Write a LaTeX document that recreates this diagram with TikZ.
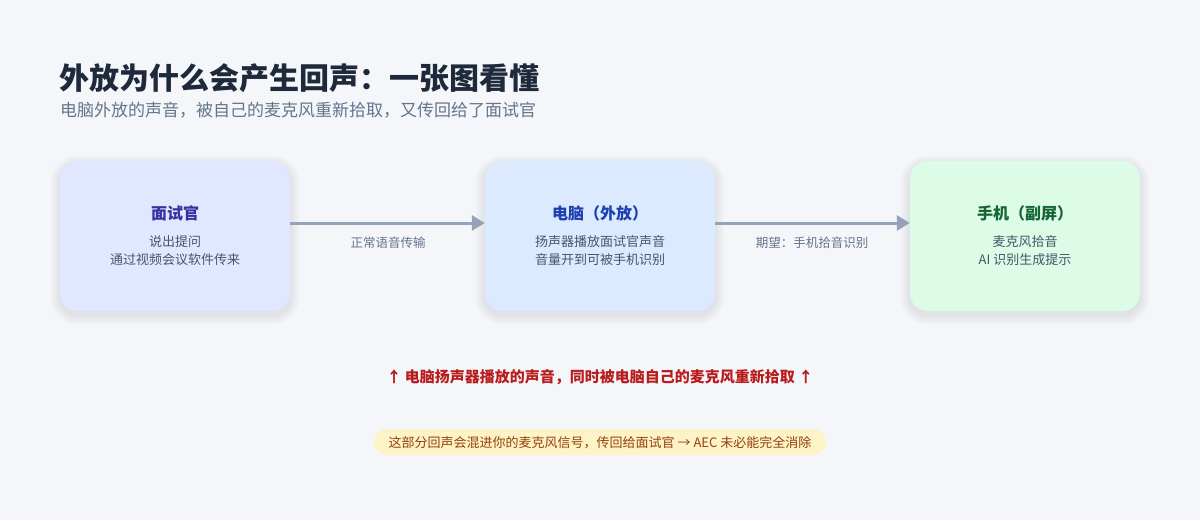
\documentclass[tikz,border=0pt]{standalone}
\usepackage{fontspec}
\setmainfont{Noto Sans CJK SC}
\usetikzlibrary{arrows.meta}
\definecolor{bg}{HTML}{F4F6FA}
\definecolor{titlec}{HTML}{1E293B}
\definecolor{subc}{HTML}{64748B}
\definecolor{bodyc}{HTML}{475569}
\definecolor{arrc}{HTML}{94A3B8}
\definecolor{fillA}{HTML}{E0E7FF}
\definecolor{fillB}{HTML}{DBEAFE}
\definecolor{fillC}{HTML}{DCFCE7}
\definecolor{headA}{HTML}{3730A3}
\definecolor{headB}{HTML}{1E40AF}
\definecolor{headC}{HTML}{166534}
\definecolor{redc}{HTML}{B91C1C}
\definecolor{pillf}{HTML}{FEF3C7}
\definecolor{pillt}{HTML}{92400E}
\definecolor{shadowc}{HTML}{1E293B}
\tikzset{
  card/.style={rounded corners=18pt, minimum width=230pt, minimum height=150pt, draw=none},
  cardhead/.style={font=\fontsize{16}{19}\selectfont\bfseries, anchor=base},
  cardbody/.style={font=\fontsize{13}{18}\selectfont, text=bodyc, anchor=base},
  flow/.style={draw=arrc, line width=3pt, -{Triangle[length=13pt,width=15pt]}},
  flowlabel/.style={font=\fontsize{12.5}{15}\selectfont, text=subc, anchor=base},
}
\newcommand\softshadow[1]{%
  \foreach \s in {1,...,10}{%
    \fill[shadowc, opacity=0.007, rounded corners=18pt+\s pt]
      ([xshift=-\s pt, yshift=\s pt-4pt]#1.north west) rectangle ([xshift=\s pt, yshift=-\s pt-4pt]#1.south east);
  }}
\begin{document}
\begin{tikzpicture}[x=1pt,y=-1pt]
\fill[bg] (0,0) rectangle (1200,520);
\useasboundingbox (0,0) rectangle (1200,520);
\node[anchor=base west, font=\fontsize{30}{36}\selectfont\bfseries, text=titlec, inner sep=0] (title) at (59,89) {外放为什么会产生回声：一张图看懂};
\node[anchor=base west, font=\fontsize{17}{21}\selectfont, text=subc, inner sep=0] (subtitle) at (60,116) {电脑外放的声音，被自己的麦克风重新拾取，又传回给了面试官};

\path (175,236) coordinate (cA) (600,236) coordinate (cB) (1025,236) coordinate (cC);
\node[card] (sA) at (cA) {};
\node[card] (sB) at (cB) {};
\node[card] (sC) at (cC) {};
\softshadow{sA}\softshadow{sB}\softshadow{sC}
\node[card, fill=fillA] (boxA) at (cA) {};
\node[card, fill=fillB] (boxB) at (cB) {};
\node[card, fill=fillC] (boxC) at (cC) {};

\node[cardhead, text=headA] (hA) at (175,219) {面试官};
\node[cardbody] (bA1) at (175,246) {说出提问};
\node[cardbody] (bA2) at (175,264) {通过视频会议软件传来};

\node[cardhead, text=headB] (hB) at (600,219) {电脑（外放）};
\node[cardbody] (bB1) at (600,246) {扬声器播放面试官声音};
\node[cardbody] (bB2) at (600,264) {音量开到可被手机识别};

\node[cardhead, text=headC] (hC) at (1025,219) {手机（副屏）};
\node[cardbody] (bC1) at (1025,246) {麦克风拾音};
\node[cardbody] (bC2) at (1025,264) {AI 识别生成提示};

\draw[flow] (boxA.east |- 0,223) -- (boxB.west |- 0,223);
\draw[flow] (boxB.east |- 0,223) -- (boxC.west |- 0,223);
\node[flowlabel] (lAB) at (388,247) {正常语音传输};
\node[flowlabel] (lBC) at (812,247) {期望：手机拾音识别};

\node[anchor=base, font=\fontsize{15}{18}\selectfont\bfseries, text=redc] (warn) at (600,382) {↑ 电脑扬声器播放的声音，同时被电脑自己的麦克风重新拾取 ↑};

\node[fill=pillf, rounded corners=13pt, minimum width=452pt, minimum height=26pt, inner sep=0] (pill) at (600,442) {};
\node[anchor=base, font=\fontsize{13}{16}\selectfont, text=pillt] (pilltext) at (600,447) {这部分回声会混进你的麦克风信号，传回给面试官 → AEC 未必能完全消除};
\end{tikzpicture}
\end{document}
